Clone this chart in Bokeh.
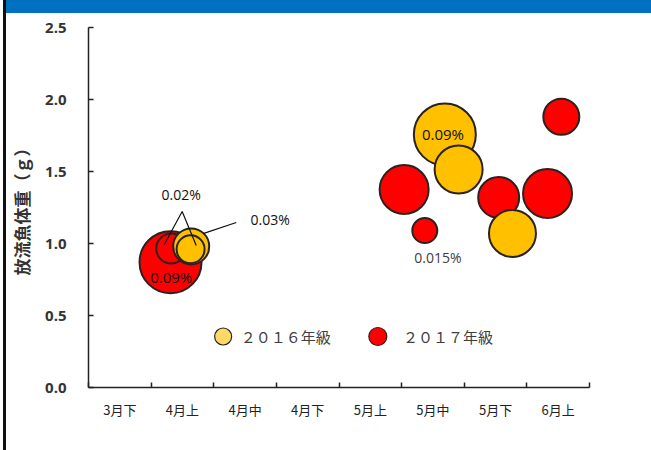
from bokeh.plotting import figure
from bokeh.models import Div, FixedTicker, Range1d, ColumnDataSource
from bokeh.layouts import row, column
from bokeh.core.properties import value
from bokeh.embed import file_html
from bokeh.resources import INLINE

# x axis categories (10-day periods)
periods = ["3月下", "4月上", "4月中", "4月下", "5月上", "5月中", "5月下", "6月上"]

# 2017 year class (red): release timing (period index, fractional), body weight (g), bubble size
x2017 = [1.31, 1.32, 5.04, 5.37, 6.55, 7.33, 7.55]
w2017 = [0.87, 0.965, 1.375, 1.09, 1.32, 1.347, 1.88]
s2017 = [31, 15, 24.5, 12.5, 20.5, 24.5, 18]

# 2016 year class (yellow)
x2016 = [1.64, 1.63, 5.69, 5.91, 6.77]
w2016 = [0.98, 0.96, 1.757, 1.514, 1.07]
s2016 = [18, 14, 31, 24, 23.5]

yticks = [0.0, 0.5, 1.0, 1.5, 2.0, 2.5]

JP = "Noto Sans CJK JP"
NUM = "Open Sans"
EDGE = "#2b2220"

p = figure(width=645, height=437, x_range=Range1d(0, 8), y_range=Range1d(0, 2.5),
           output_backend="svg", toolbar_location=None, margin=0,
           min_border_left=81, min_border_right=62, min_border_top=14, min_border_bottom=63)
p.outline_line_color = None
p.xgrid.visible = False
p.ygrid.visible = False
p.background_fill_color = "white"
p.border_fill_color = "white"

# x axis
p.xaxis.ticker = FixedTicker(ticks=[i + 0.5 for i in range(len(periods))],
                             minor_ticks=list(range(len(periods) + 1)))
p.xaxis.major_label_overrides = {i + 0.5: lab for i, lab in enumerate(periods)}
p.xaxis.major_tick_in = 0
p.xaxis.major_tick_out = 0
p.xaxis.minor_tick_in = 5
p.xaxis.minor_tick_out = 0
p.xaxis.minor_tick_line_color = "#222222"
p.xaxis.minor_tick_line_width = 1.5
p.xaxis.axis_line_color = "#222222"
p.xaxis.axis_line_width = 1.5
p.xaxis.major_label_text_font = JP
p.xaxis.major_label_text_font_size = "13px"
p.xaxis.major_label_text_color = "#222222"
p.xaxis.major_label_standoff = 12

# y axis
p.yaxis.ticker = FixedTicker(ticks=yticks)
p.yaxis.major_label_overrides = {t: f"{t:.1f}" for t in yticks}
p.yaxis.major_tick_in = 5
p.yaxis.major_tick_out = 0
p.yaxis.minor_tick_line_color = None
p.yaxis.major_tick_line_color = "#222222"
p.yaxis.major_tick_line_width = 1.5
p.yaxis.axis_line_color = "#222222"
p.yaxis.axis_line_width = 1.5
p.yaxis.major_label_text_font = NUM
p.yaxis.major_label_text_font_style = "bold"
p.yaxis.major_label_text_font_size = "15px"
p.yaxis.major_label_text_color = "#333333"
p.yaxis.major_label_standoff = 22
p.yaxis.axis_label = "放流魚体重（ｇ）"
p.yaxis.axis_label_text_font = JP
p.yaxis.axis_label_text_font_style = "bold"
p.yaxis.axis_label_text_font_size = "17px"
p.yaxis.axis_label_text_color = "#333333"
p.yaxis.axis_label_standoff = 8

# bubbles
src17 = ColumnDataSource(dict(x=x2017, y=w2017, d=[2 * s for s in s2017]))
src16 = ColumnDataSource(dict(x=x2016, y=w2016, d=[2 * s for s in s2016]))
p.scatter("x", "y", size="d", source=src17, fill_color="#FF0000", line_color=EDGE, line_width=2)
p.scatter("x", "y", size="d", source=src16, fill_color="#FFC000", line_color=EDGE, line_width=2)

# leader lines
p.line([1.21, 1.496, 1.72], [0.993, 1.222, 0.986], line_color="#111111", line_width=1.2)
p.line([2.36, 1.83], [1.146, 1.069], line_color="#111111", line_width=1.2)

# rate labels
lab_x = [1.48, 2.90, 1.32, 5.66, 5.58]
lab_y = [1.34, 1.17, 0.77, 1.76, 0.90]
lab_t = ["0.02%", "0.03%", "0.09%", "0.09%", "0.015%"]
lab_c = ["#111111", "#111111", "#111111", "#111111", "#404040"]
lab_s = ["14px", "14px", "15px", "15px", "14px"]
p.text(lab_x, lab_y, text=lab_t, text_color=lab_c, text_font=value(NUM),
       text_font_size=lab_s, text_align="center", text_baseline="middle")

# legend
p.scatter([2.15], [0.354], size=17, fill_color="#FFD966", line_color=EDGE, line_width=1.2)
p.scatter([4.62], [0.354], size=18, fill_color="#FF0000", line_color=EDGE, line_width=1.2)
p.text([2.43, 5.02], [0.354, 0.354], text=["２０１６年級", "２０１７年級"], text_color="#404040",
       text_font=value(JP), text_font_size="15px", text_align="left", text_baseline="middle")

bar = Div(width=645, height=13, margin=0, styles={"background-color": "#0070C0"})
pad = Div(width=3, height=450, margin=0, styles={"background-color": "white"})
edge = Div(width=3, height=450, margin=0, styles={"background-color": "#111111"})
layout = row(pad, edge, column(bar, p, spacing=0, margin=0), spacing=0, margin=0)

open("out.html", "w").write(file_html(layout, INLINE))
